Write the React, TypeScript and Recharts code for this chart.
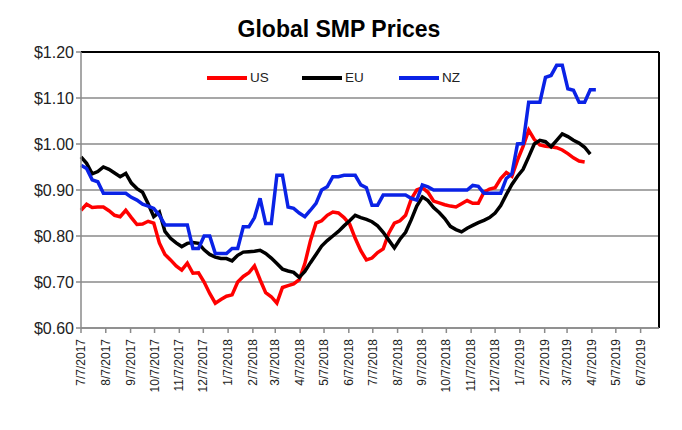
import React from 'react';
import { LineChart, Line, XAxis, YAxis, CartesianGrid, ReferenceLine } from 'recharts';

// weekly prices, $/lb, starting 7/7/2017
const usPrices = [
	0.856, 0.869, 0.862, 0.863, 0.863, 0.855, 0.845, 0.842, 0.856, 0.84,
	0.825, 0.826, 0.832, 0.828, 0.785, 0.76, 0.748, 0.735, 0.726, 0.741,
	0.719, 0.72, 0.7, 0.675, 0.654, 0.662, 0.669, 0.672, 0.7, 0.712,
	0.72, 0.735, 0.705, 0.677, 0.668, 0.654, 0.688, 0.692, 0.696, 0.705,
	0.74, 0.79, 0.828, 0.833, 0.845, 0.852, 0.85, 0.84, 0.826, 0.795,
	0.768, 0.748, 0.752, 0.764, 0.772, 0.806, 0.828, 0.833, 0.845, 0.88,
	0.9, 0.905, 0.895, 0.876, 0.872, 0.868, 0.865, 0.863, 0.87, 0.877,
	0.871, 0.871, 0.895, 0.902, 0.905, 0.925, 0.938, 0.93, 0.965, 0.995,
	1.03, 1.01, 0.998, 0.995, 0.994, 0.992, 0.987, 0.979, 0.97, 0.963,
	0.961,
];

const euPrices = [
	0.972, 0.958, 0.935, 0.94, 0.95, 0.945, 0.937, 0.929, 0.936, 0.915,
	0.903, 0.895, 0.87, 0.842, 0.852, 0.81, 0.795, 0.785, 0.777, 0.784,
	0.786, 0.784, 0.77, 0.76, 0.754, 0.751, 0.751, 0.746, 0.758, 0.765,
	0.766, 0.767, 0.769, 0.762, 0.752, 0.74, 0.728, 0.724, 0.721, 0.71,
	0.723, 0.742, 0.76, 0.778, 0.79, 0.8, 0.81, 0.822, 0.833, 0.845,
	0.84, 0.836, 0.831, 0.822, 0.808, 0.791, 0.774, 0.793, 0.808, 0.835,
	0.865, 0.885, 0.877, 0.862, 0.851, 0.838, 0.821, 0.814, 0.809, 0.817,
	0.823, 0.829, 0.834, 0.84, 0.85, 0.866, 0.89, 0.912, 0.93, 0.945,
	0.972, 1.0, 1.008, 1.005, 0.994, 1.008, 1.022, 1.016, 1.008, 1.002,
	0.993, 0.978,
];

const nzPrices = [
	0.954, 0.947, 0.922, 0.918, 0.893, 0.893, 0.893, 0.893, 0.893, 0.884,
	0.878, 0.869, 0.865, 0.86, 0.845, 0.824, 0.824, 0.824, 0.824, 0.824,
	0.773, 0.773, 0.8, 0.8, 0.762, 0.762, 0.762, 0.773, 0.773, 0.82,
	0.82, 0.84, 0.882, 0.827, 0.827, 0.932, 0.932, 0.863, 0.86, 0.85,
	0.842, 0.856, 0.871, 0.9, 0.907, 0.929, 0.929, 0.932, 0.932, 0.932,
	0.911, 0.905, 0.867, 0.867, 0.889, 0.889, 0.889, 0.889, 0.889, 0.882,
	0.878, 0.911, 0.907, 0.9, 0.9, 0.9, 0.9, 0.9, 0.9, 0.9,
	0.91, 0.908, 0.893, 0.893, 0.893, 0.893, 0.925, 0.935, 1.0, 1.001,
	1.091, 1.091, 1.091, 1.145, 1.149, 1.171, 1.171, 1.12, 1.117, 1.091,
	1.091, 1.118, 1.118,
];

const tickLabels = [
	'7/7/2017', '8/7/2017', '9/7/2017', '10/7/2017', '11/7/2017', '12/7/2017',
	'1/7/2018', '2/7/2018', '3/7/2018', '4/7/2018', '5/7/2018', '6/7/2018',
	'7/7/2018', '8/7/2018', '9/7/2018', '10/7/2018', '11/7/2018', '12/7/2018',
	'1/7/2019', '2/7/2019', '3/7/2019', '4/7/2019', '5/7/2019', '6/7/2019',
];

const yTicks = [0.6, 0.7, 0.8, 0.9, 1.0, 1.1, 1.2];

const DAY = 86400000;
const start = Date.UTC(2017, 6, 7);
const toDay = (s: string) => {
	const [m, d, y] = s.split('/').map(Number);
	return Math.round((Date.UTC(y, m - 1, d) - start) / DAY);
};
const tickDays = tickLabels.map(toDay);
const labelByDay = new Map(tickDays.map((d, i) => [d, tickLabels[i]]));

const weeks = Math.max(usPrices.length, euPrices.length, nzPrices.length);
const data = Array.from({ length: weeks }, (_, i) => ({
	day: i * 7,
	US: usPrices[i] ?? null,
	EU: euPrices[i] ?? null,
	NZ: nzPrices[i] ?? null,
}));

const FONT = '"Liberation Sans", Arial, sans-serif';

const series = [
	{ key: 'US', color: '#ff0000', legendX: 207 },
	{ key: 'EU', color: '#000000', legendX: 302 },
	{ key: 'NZ', color: '#0a22e6', legendX: 399 },
];

function DateTick({ x, y, payload }: any) {
	return (
		<text
			transform={`translate(${x},${y + 4}) rotate(-90)`}
			dy={4}
			textAnchor="end"
			fontSize={12}
			fontFamily={FONT}
			fill="#222"
		>
			{labelByDay.get(payload.value) ?? ''}
		</text>
	);
}

export default function App() {
	return (
		<div style={{ position: 'absolute', left: 0, top: 0, width: 682, height: 430, background: '#fff' }}>
			<div
				style={{
					position: 'absolute',
					left: 0,
					top: 18,
					width: 678,
					textAlign: 'center',
					fontFamily: FONT,
					fontWeight: 'bold',
					fontSize: 23,
					lineHeight: '23px',
					color: '#000',
				}}
			>
				Global SMP Prices
			</div>

			<LineChart width={682} height={430} data={data} margin={{ top: 52, right: 23, bottom: 0, left: 0 }}>
				<CartesianGrid vertical={false} stroke="#8a8a8a" strokeWidth={1.5} />
				<XAxis
					type="number"
					dataKey="day"
					domain={[0, 723]}
					ticks={tickDays}
					interval={0}
					height={102}
					tick={<DateTick />}
					tickSize={5}
					stroke="#8a8a8a"
					strokeWidth={1.5}
				/>
				<YAxis
					domain={[0.6, 1.2]}
					ticks={yTicks}
					width={81}
					tickFormatter={(v: number) => `$${v.toFixed(2)}`}
					tick={{ fontSize: 16, fontFamily: FONT, fill: '#222' }}
					tickSize={5}
					tickMargin={2}
					stroke="#8a8a8a"
					strokeWidth={1.5}
				/>
				<ReferenceLine y={1.2} stroke="#000" strokeWidth={2} />
				<ReferenceLine x={723} stroke="#000" strokeWidth={2} />
				{series.map((s) => (
					<Line
						key={s.key}
						type="linear"
						dataKey={s.key}
						stroke={s.color}
						strokeWidth={3.5}
						dot={false}
						isAnimationActive={false}
						connectNulls={false}
					/>
				))}
			</LineChart>

			{/* Legend */}
			{series.map((s) => (
				<React.Fragment key={s.key}>
					<div
						style={{
							position: 'absolute',
							left: s.legendX,
							top: 76,
							width: 40,
							height: 4,
							background: s.color,
						}}
					/>
					<div
						style={{
							position: 'absolute',
							left: s.legendX + 43,
							top: 70,
							fontFamily: FONT,
							fontSize: 13.5,
							lineHeight: '16px',
							color: '#222',
						}}
					>
						{s.key}
					</div>
				</React.Fragment>
			))}
		</div>
	);
}
